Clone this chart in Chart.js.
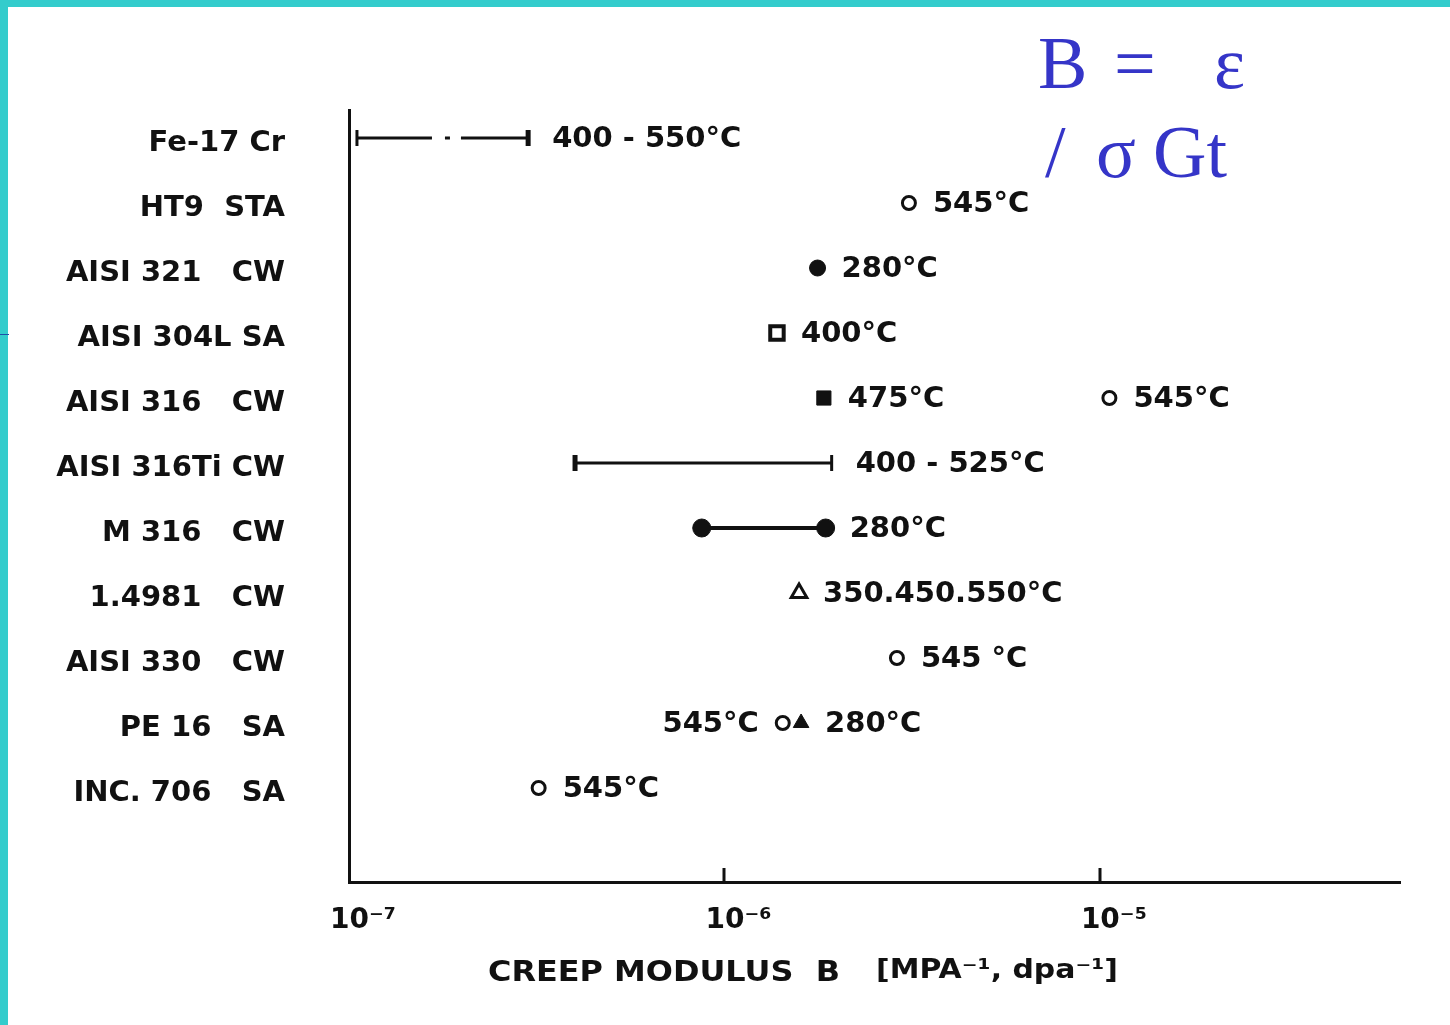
<!DOCTYPE html>
<html>
<head>
<meta charset="utf-8">
<title>Creep modulus of alloys</title>
<script src="https://cdn.jsdelivr.net/npm/chart.js@4.4.1/dist/chart.umd.min.js"></script>
<style>
  html, body { margin: 0; padding: 0; background: #ffffff; }
  #wrap { width: 1450px; height: 1025px; position: relative; }
  canvas { display: block; }
</style>
</head>
<body>
<div id="wrap"><canvas id="creep" width="1450" height="1025"></canvas></div>
<script>
// Alloys listed top to bottom (row index = position in this list)
const alloys = [
  'Fe-17 Cr',
  'HT9  STA',
  'AISI 321   CW',
  'AISI 304L SA',
  'AISI 316   CW',
  'AISI 316Ti CW',
  'M 316   CW',
  '1.4981   CW',
  'AISI 330   CW',
  'PE 16   SA',
  'INC. 706   SA'
];

// Creep modulus axis (MPa^-1 dpa^-1)
const xTickValues = [1e-7, 1e-6, 1e-5];
const xTickLabels = ['10\u207B\u2077', '10\u207B\u2076', '10\u207B\u2075'];
const xMin = 1e-7;
const xMax = 6.3e-5;

// Measurements covering a temperature range: [low, high] per alloy
const feCrRow = 0;
const feCrRange = [1.05e-7, 3.0e-7];
const feCrLabel = '400 - 550°C';

const ti316Row = 5;
const ti316Range = [4.0e-7, 1.93e-6];
const ti316Label = '400 - 525°C';

const m316Row = 6;
const m316Range = [8.7e-7, 1.86e-6];
const m316Label = '280°C';

// Single measurements grouped by symbol
const openCircleRows = [1, 4, 8, 9, 10];
const openCircleValues = [3.1e-6, 1.06e-5, 2.88e-6, 1.43e-6, 3.2e-7];
const openCircleLabels = ['545°C', '545°C', '545 °C', '545°C', '545°C'];

const filledCircleRows = [2];
const filledCircleValues = [1.77e-6];
const filledCircleLabels = ['280°C'];

const openSquareRows = [3];
const openSquareValues = [1.38e-6];
const openSquareLabels = ['400°C'];

const filledSquareRows = [4];
const filledSquareValues = [1.84e-6];
const filledSquareLabels = ['475°C'];

const openTriangleRows = [7];
const openTriangleValues = [1.58e-6];
const openTriangleLabels = ['350.450.550°C'];

const filledTriangleRows = [9];
const filledTriangleValues = [1.60e-6];
const filledTriangleLabels = ['280°C'];

const INK = '#111111';
const LABEL_FONT = 'bold 29px "DejaVu Sans"';

function pts(rows, values) {
  return rows.map((r, i) => ({ x: values[i], y: r }));
}
function rangePts(row, range) {
  return [{ x: range[0], y: row }, { x: range[1], y: row }];
}

const datasets = [
  {
    label: 'Fe-17 Cr',
    data: rangePts(feCrRow, feCrRange),
    showLine: true,
    borderColor: INK, backgroundColor: INK,
    borderWidth: 3,
    borderDash: [75, 13, 5, 11, 400],
    pointStyle: 'line', rotation: 90, pointRadius: 8,
    pointBorderWidth: [3, 5],
    tempLabels: [null, feCrLabel]
  },
  {
    label: 'AISI 316Ti CW',
    data: rangePts(ti316Row, ti316Range),
    showLine: true,
    borderColor: INK, backgroundColor: INK,
    borderWidth: 3,
    pointStyle: 'line', rotation: 90, pointRadius: 8,
    pointBorderWidth: [5, 3],
    tempLabels: [null, ti316Label]
  },
  {
    label: 'M 316 CW',
    data: rangePts(m316Row, m316Range),
    showLine: true,
    borderColor: INK, backgroundColor: INK,
    borderWidth: 4,
    pointStyle: 'circle', pointRadius: 9, pointBorderWidth: 1,
    tempLabels: [null, m316Label]
  },
  {
    label: 'open circle',
    data: pts(openCircleRows, openCircleValues),
    pointStyle: 'circle', pointRadius: 6.5, pointBorderWidth: 3,
    borderColor: INK, backgroundColor: '#ffffff',
    tempLabels: openCircleLabels,
    labelSide: ['right', 'right', 'right', 'left', 'right']
  },
  {
    label: 'filled circle',
    data: pts(filledCircleRows, filledCircleValues),
    pointStyle: 'circle', pointRadius: 8, pointBorderWidth: 1,
    borderColor: INK, backgroundColor: INK,
    tempLabels: filledCircleLabels
  },
  {
    label: 'open square',
    data: pts(openSquareRows, openSquareValues),
    pointStyle: 'rect', pointRadius: 9.5, pointBorderWidth: 4,
    borderColor: INK, backgroundColor: '#ffffff',
    tempLabels: openSquareLabels
  },
  {
    label: 'filled square',
    data: pts(filledSquareRows, filledSquareValues),
    pointStyle: 'rect', pointRadius: 10, pointBorderWidth: 1,
    borderColor: INK, backgroundColor: INK,
    tempLabels: filledSquareLabels
  },
  {
    label: 'open triangle',
    data: pts(openTriangleRows, openTriangleValues),
    pointStyle: 'triangle', pointRadius: 9, pointBorderWidth: 3,
    borderColor: INK, backgroundColor: '#ffffff',
    tempLabels: openTriangleLabels
  },
  {
    label: 'filled triangle',
    data: pts(filledTriangleRows, filledTriangleValues),
    pointStyle: 'triangle', pointRadius: 9, pointBorderWidth: 1,
    borderColor: INK, backgroundColor: INK,
    tempLabels: filledTriangleLabels
  }
];

// Teal slide frame behind everything
const framePlugin = {
  id: 'frame',
  beforeDraw(chart) {
    const ctx = chart.ctx;
    ctx.save();
    ctx.fillStyle = '#ffffff';
    ctx.fillRect(0, 0, chart.width, chart.height);
    ctx.fillStyle = '#33CCCC';
    ctx.fillRect(0, 0, chart.width, 7);
    ctx.fillRect(0, 0, 8, chart.height);
    ctx.fillStyle = '#1f4fa8';
    ctx.fillRect(0, 334, 9, 1);
    ctx.restore();
  }
};

// Temperature annotations next to each symbol
const tempLabelPlugin = {
  id: 'tempLabels',
  afterDatasetsDraw(chart) {
    const ctx = chart.ctx;
    ctx.save();
    ctx.font = LABEL_FONT;
    ctx.fillStyle = INK;
    ctx.textBaseline = 'middle';
    chart.data.datasets.forEach((ds, di) => {
      if (!ds.tempLabels) return;
      const meta = chart.getDatasetMeta(di);
      meta.data.forEach((el, i) => {
        const text = ds.tempLabels[i];
        if (!text) return;
        const side = ds.labelSide ? ds.labelSide[i] : 'right';
        const gap = 24;
        ctx.textAlign = side === 'left' ? 'right' : 'left';
        ctx.fillText(text, side === 'left' ? el.x - gap : el.x + gap, el.y + 1);
      });
    });
    ctx.restore();
  }
};

// Draws text stretched horizontally to span a given width
function fillStretched(ctx, text, x, y, width) {
  const w = ctx.measureText(text).width;
  ctx.save();
  ctx.translate(x, y);
  ctx.scale(width / w, 1);
  ctx.fillText(text, 0, 0);
  ctx.restore();
}

// Inward tick marks, axis title and the defining formula
const decorPlugin = {
  id: 'decor',
  afterDraw(chart) {
    const ctx = chart.ctx;
    const xs = chart.scales.x;
    const bottom = chart.chartArea.bottom;
    ctx.save();
    ctx.strokeStyle = INK;
    ctx.lineWidth = 3;
    xTickValues.slice(1).forEach(v => {
      const px = Math.round(xs.getPixelForValue(v));
      ctx.beginPath();
      ctx.moveTo(px, bottom);
      ctx.lineTo(px, bottom - 14);
      ctx.stroke();
    });

    ctx.fillStyle = INK;
    ctx.textBaseline = 'middle';
    ctx.textAlign = 'left';
    ctx.font = 'bold 29px "DejaVu Sans"';
    fillStretched(ctx, 'CREEP MODULUS  B', 488, 973, 352);
    ctx.font = 'bold 27px "DejaVu Sans"';
    fillStretched(ctx, '[MPA\u207B\u00B9, dpa\u207B\u00B9]', 876, 971, 242);

    ctx.fillStyle = '#3535C8';
    ctx.textBaseline = 'alphabetic';
    ctx.font = '74px "Liberation Serif"';
    ctx.fillText('B', 1038, 88);
    ctx.fillText('=', 1114, 88);
    ctx.fillText('\u03B5', 1214, 88);
    ctx.fillText('/', 1045, 177);
    ctx.fillText('\u03C3', 1096, 177);
    ctx.fillText('Gt', 1153, 177);
    ctx.restore();
  }
};

new Chart(document.getElementById('creep'), {
  type: 'scatter',
  data: { datasets },
  options: {
    responsive: false,
    animation: false,
    events: [],
    layout: { padding: { top: 110, right: 50, left: 0, bottom: 0 } },
    plugins: {
      legend: { display: false },
      tooltip: { enabled: false },
      title: { display: false }
    },
    scales: {
      x: {
        type: 'logarithmic',
        min: xMin,
        max: xMax,
        afterBuildTicks(scale) {
          scale.ticks = xTickValues.map(v => ({ value: v, major: true }));
        },
        afterFit(scale) { scale.height = 143; },
        grid: { display: false, drawTicks: false },
        border: { display: true, color: INK, width: 3 },
        ticks: {
          autoSkip: false,
          maxRotation: 0,
          padding: 22,
          labelOffset: 14,
          color: INK,
          font: { family: 'DejaVu Sans', size: 28, weight: 'bold' },
          callback: (v) => {
            const i = xTickValues.findIndex(t => Math.abs(t - v) / t < 1e-6);
            return i >= 0 ? xTickLabels[i] : '';
          }
        }
      },
      y: {
        type: 'linear',
        reverse: true,
        min: -0.431,
        max: 11.446,
        afterBuildTicks(scale) {
          scale.ticks = alloys.map((_, i) => ({ value: i }));
        },
        afterFit(scale) { scale.width = 349; },
        grid: { display: false, drawTicks: false },
        border: { display: true, color: INK, width: 3 },
        ticks: {
          autoSkip: false,
          padding: 64,
          labelOffset: 5,
          color: INK,
          font: { family: 'DejaVu Sans', size: 29, weight: 'bold' },
          callback: (v) => alloys[v] !== undefined ? alloys[v] : ''
        }
      }
    }
  },
  plugins: [framePlugin, tempLabelPlugin, decorPlugin]
});
</script>
</body>
</html>
